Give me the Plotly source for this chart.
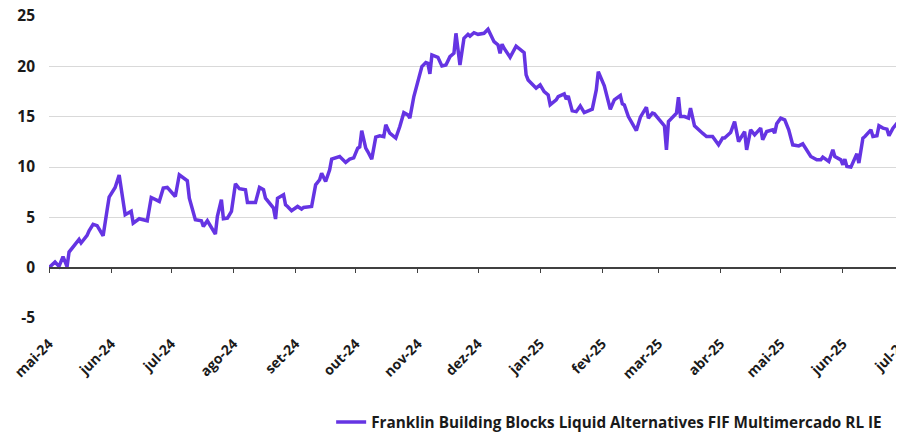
import pandas as pd
import plotly.graph_objects as go

# Fund return series (%)
dates = [
    "2024-05-01", "2024-05-04", "2024-05-06", "2024-05-08", "2024-05-09", "2024-05-10", "2024-05-11",
    "2024-05-14", "2024-05-16", "2024-05-17", "2024-05-20", "2024-05-21", "2024-05-23", "2024-05-25",
    "2024-05-28", "2024-05-30", "2024-05-31", "2024-06-03", "2024-06-05", "2024-06-08", "2024-06-11",
    "2024-06-12", "2024-06-15", "2024-06-19", "2024-06-21", "2024-06-25", "2024-06-27", "2024-06-29",
    "2024-07-03", "2024-07-05", "2024-07-09", "2024-07-10", "2024-07-13", "2024-07-16", "2024-07-17",
    "2024-07-19", "2024-07-23", "2024-07-24", "2024-07-26", "2024-07-27", "2024-07-29", "2024-07-31",
    "2024-08-02", "2024-08-04", "2024-08-07", "2024-08-08", "2024-08-12", "2024-08-14", "2024-08-16",
    "2024-08-17", "2024-08-19", "2024-08-21", "2024-08-22", "2024-08-23", "2024-08-26", "2024-08-27",
    "2024-08-28", "2024-08-30", "2024-09-02", "2024-09-04", "2024-09-05", "2024-09-09", "2024-09-11",
    "2024-09-13", "2024-09-14", "2024-09-16", "2024-09-18", "2024-09-19", "2024-09-23", "2024-09-26",
    "2024-09-28", "2024-09-30", "2024-10-02", "2024-10-03", "2024-10-04", "2024-10-06", "2024-10-07",
    "2024-10-09", "2024-10-11", "2024-10-13", "2024-10-15", "2024-10-16", "2024-10-18", "2024-10-21",
    "2024-10-23", "2024-10-25", "2024-10-27", "2024-10-28", "2024-10-30", "2024-11-01", "2024-11-03",
    "2024-11-05", "2024-11-06", "2024-11-07", "2024-11-08", "2024-11-11", "2024-11-13", "2024-11-15",
    "2024-11-17", "2024-11-19", "2024-11-20", "2024-11-22", "2024-11-24", "2024-11-26", "2024-11-27",
    "2024-11-29", "2024-12-01", "2024-12-04", "2024-12-06", "2024-12-09", "2024-12-11", "2024-12-12",
    "2024-12-13", "2024-12-14", "2024-12-17", "2024-12-20", "2024-12-24", "2024-12-25", "2024-12-26",
    "2024-12-30", "2025-01-01", "2025-01-03", "2025-01-05", "2025-01-06", "2025-01-09", "2025-01-10",
    "2025-01-13", "2025-01-14", "2025-01-15", "2025-01-17", "2025-01-19", "2025-01-21", "2025-01-23",
    "2025-01-27", "2025-01-29", "2025-01-30", "2025-02-02", "2025-02-05", "2025-02-07", "2025-02-10",
    "2025-02-11", "2025-02-12", "2025-02-14", "2025-02-18", "2025-02-20", "2025-02-23", "2025-02-24",
    "2025-02-26", "2025-02-27", "2025-03-04", "2025-03-05", "2025-03-06", "2025-03-10", "2025-03-11",
    "2025-03-12", "2025-03-14", "2025-03-16", "2025-03-17", "2025-03-19", "2025-03-23", "2025-03-25",
    "2025-03-28", "2025-03-31", "2025-04-02", "2025-04-03", "2025-04-06", "2025-04-08", "2025-04-10",
    "2025-04-13", "2025-04-14", "2025-04-16", "2025-04-18", "2025-04-21", "2025-04-22", "2025-04-24",
    "2025-04-27", "2025-04-28", "2025-04-29", "2025-05-01", "2025-05-03", "2025-05-05", "2025-05-07",
    "2025-05-10", "2025-05-12", "2025-05-14", "2025-05-16", "2025-05-19", "2025-05-21", "2025-05-22",
    "2025-05-25", "2025-05-27", "2025-05-28", "2025-05-31", "2025-06-01", "2025-06-02", "2025-06-03",
    "2025-06-05", "2025-06-08", "2025-06-09", "2025-06-11", "2025-06-12", "2025-06-14", "2025-06-15",
    "2025-06-16", "2025-06-18", "2025-06-19", "2025-06-21", "2025-06-23", "2025-06-24", "2025-06-26",
    "2025-06-28", "2025-06-29", "2025-06-30",
]
values = [
    0.0, 0.56, 0.13, 1.1, 0.6, 0.1, 1.55,
    2.35, 2.8, 2.45, 3.2, 3.67, 4.3, 4.17,
    3.17, 5.75, 7.0, 7.97, 9.2, 5.26, 5.6,
    4.43, 4.86, 4.66, 6.97, 6.58, 7.9, 7.97,
    7.07, 9.23, 8.63, 6.9, 4.76, 4.66, 4.1,
    4.66, 3.34, 5.1, 6.75, 4.86, 4.93, 5.59,
    8.33, 7.84, 7.74, 6.48, 6.48, 7.97, 7.74,
    6.9, 6.42, 5.92, 4.83, 6.9, 7.24, 6.25,
    6.08, 5.65, 6.08, 5.82, 5.98, 6.08, 8.23,
    8.73, 9.39, 8.56, 9.72, 10.78, 11.04, 10.45,
    10.78, 10.9, 11.87, 12.0, 13.6, 11.87, 11.54,
    10.78, 12.97, 13.1, 13.02, 14.19, 13.36, 12.87,
    14.02, 15.4, 15.18, 14.85, 17.0, 18.65, 19.97,
    20.37, 20.3, 19.25, 21.13, 20.9, 20.04, 20.14,
    20.96, 21.3, 23.28, 20.14, 22.79, 23.18, 23.0,
    23.34, 23.18, 23.28, 23.68, 22.45, 22.12, 21.3,
    22.2, 21.8, 20.9, 22.0, 21.36, 19.15, 18.65,
    17.83, 18.15, 17.49, 17.16, 16.17, 16.67, 17.0,
    17.26, 16.73, 17.06, 15.58, 15.5, 16.07, 15.4,
    15.74, 17.66, 19.47, 18.06, 15.74, 16.67, 17.1,
    16.27, 16.17, 15.01, 13.62, 14.95, 15.94, 14.85,
    15.35, 15.28, 14.09, 11.71, 14.51, 15.35, 16.93,
    15.01, 15.01, 14.85, 15.84, 14.09, 13.36, 13.03,
    13.03, 12.2, 12.87, 12.87, 13.42, 14.51, 12.53,
    13.52, 11.71, 13.69, 13.19, 13.86, 12.7, 13.52,
    13.69, 13.36, 14.29, 14.85, 14.68, 13.69, 12.2,
    12.1, 12.3, 11.71, 11.04, 10.71, 10.71, 10.98,
    10.55, 11.71, 11.04, 10.71, 10.22, 10.78, 10.05,
    9.99, 11.31, 10.39, 12.87, 13.03, 13.52, 13.69,
    13.03, 13.1, 14.09, 13.86, 13.76, 13.1, 13.86,
    14.35, 14.19, 13.69,
]

series_name = "Franklin Building Blocks Liquid Alternatives FIF Multimercado RL IE"

month_ticks = pd.date_range("2024-05-01", "2025-07-01", freq="MS")
month_labels = [
    "mai-24", "jun-24", "jul-24", "ago-24", "set-24", "out-24", "nov-24", "dez-24",
    "jan-25", "fev-25", "mar-25", "abr-25", "mai-25", "jun-25", "jul-25",
]
y_ticks = [-5, 0, 5, 10, 15, 20, 25]
y_labels = ["-5", "0", "5", "10", "15", "20", "25"]

x_range = ["2024-05-01", "2025-07-01 12:00"]
y_range = [-5, 25]

line_color = "#6534e3"
axis_color = "#404040"
grid_color = "#d9d9d9"
text_color = "#1a1a1a"
font_family = "Open Sans, sans-serif"

fig = go.Figure()

fig.add_trace(
    go.Scatter(
        x=pd.to_datetime(dates),
        y=values,
        mode="lines",
        name=series_name,
        line=dict(color=line_color, width=3.5),
    )
)

# empty trace so the second x axis (the one sitting at y=0) gets drawn
fig.add_trace(go.Scatter(x=[], y=[], xaxis="x2", showlegend=False, hoverinfo="skip"))

zero_pos = (0 - y_range[0]) / (y_range[1] - y_range[0])

# page body has an 8px margin, so the figure is a bit smaller than the window
fig.update_layout(
    width=896, height=426,
    margin=dict(l=41, r=0, t=8, b=116, autoexpand=False),
    paper_bgcolor="white",
    plot_bgcolor="white",
    font=dict(family=font_family, size=14, color=text_color, weight="bold"),
    showlegend=True,
    legend=dict(
        orientation="h",
        x=0.33, xanchor="left",
        y=-0.29, yanchor="top",
        font=dict(family=font_family, size=15.3, color=text_color, weight="bold"),
        itemwidth=30,
    ),
    xaxis=dict(
        type="date",
        range=x_range,
        tickvals=month_ticks,
        ticktext=month_labels,
        tickangle=-45,
        tickfont=dict(size=14),
        showgrid=False,
        showline=False,
        ticks="",
        zeroline=False,
        automargin=False,
        ticklabelstandoff=14,
        ticklabeloverflow="allow",
    ),
    xaxis2=dict(
        type="date",
        overlaying="x",
        anchor="free",
        position=zero_pos,
        range=x_range,
        tickvals=month_ticks,
        showticklabels=False,
        ticks="outside",
        ticklen=5,
        tickwidth=1.2,
        tickcolor=axis_color,
        showline=True,
        linecolor=axis_color,
        linewidth=1.5,
        showgrid=False,
        zeroline=False,
        automargin=False,
    ),
    yaxis=dict(
        range=y_range,
        tickvals=y_ticks,
        ticktext=y_labels,
        tickfont=dict(size=15.5),
        showgrid=True,
        gridcolor=grid_color,
        gridwidth=1,
        zeroline=False,
        showline=False,
        ticks="",
        automargin=False,
        ticklabelstandoff=13,
        ticklabeloverflow="allow",
    ),
)

fig.write_html("out.html")
